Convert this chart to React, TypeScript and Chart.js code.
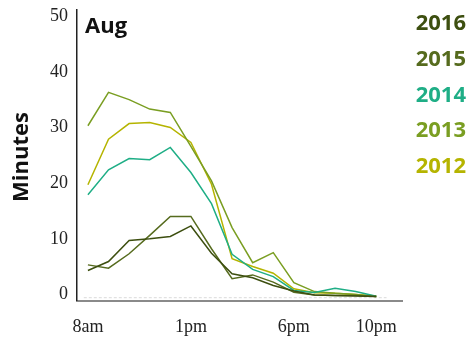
import React, { useEffect, useRef } from "react";
import { Chart, registerables } from "chart.js";

Chart.register(...registerables);

const hours = [8, 9, 10, 11, 12, 13, 14, 15, 16, 17, 18, 19, 20, 21, 22];
const seriesLabels = ["2016", "2015", "2014", "2013", "2012"];
const s2016 = [4.9, 6.5, 10.3, 10.6, 11.0, 12.9, 8.0, 4.3, 3.6, 2.2, 1.2, 0.5, 0.4, 0.3, 0.2];
const s2015 = [5.9, 5.3, 7.9, 11.2, 14.6, 14.6, 8.8, 3.4, 4.1, 2.8, 1.0, 0.5, 0.4, 0.4, 0.2];
const s2014 = [18.5, 23.0, 25.0, 24.8, 27.0, 22.5, 16.9, 7.8, 5.1, 3.8, 1.3, 0.95, 1.7, 1.1, 0.25];
const s2013 = [30.9, 36.9, 35.6, 33.9, 33.3, 27.2, 21.0, 12.6, 6.3, 8.1, 2.7, 1.1, 0.8, 0.6, 0.2];
const s2012 = [20.3, 28.5, 31.3, 31.5, 30.6, 27.9, 20.4, 7.0, 5.6, 4.4, 1.6, 0.9, 0.8, 0.6, 0.3];
const seriesValues = [s2016, s2015, s2014, s2013, s2012];
const seriesColors = ["#3d4f10", "#566b1e", "#1fae86", "#7a9e22", "#b5b400"];
const xTickHours = [8, 13, 18, 22];
const xTickLabels = ["8am", "1pm", "6pm", "10pm"];
const yTicks = [0, 10, 20, 30, 40, 50];
const panelTitle = "Aug";
const yTitle = "Minutes";

const overlayPlugin = {
  id: "overlay",
  beforeDatasetsDraw(chart: any) {
    const { ctx, scales } = chart;
    const y0 = scales.y.getPixelForValue(0);
    ctx.save();
    ctx.strokeStyle = "#dadada";
    ctx.lineWidth = 1;
    ctx.setLineDash([3, 2]);
    ctx.beginPath();
    ctx.moveTo(scales.x.getPixelForValue(7.8), y0);
    ctx.lineTo(scales.x.getPixelForValue(22.5), y0);
    ctx.stroke();
    ctx.restore();
  },
  afterDraw(chart: any) {
    const { ctx } = chart;
    ctx.save();
    ctx.font = 'bold 22px "Open Sans"';
    ctx.fillStyle = "#111";
    ctx.textAlign = "left";
    ctx.textBaseline = "alphabetic";
    ctx.fillText(panelTitle, 85, 33);

    ctx.save();
    ctx.translate(28, 157);
    ctx.rotate(-Math.PI / 2);
    ctx.textAlign = "center";
    ctx.fillText(yTitle, 0, 0);
    ctx.restore();

    ctx.textAlign = "right";
    seriesLabels.forEach((lab, i) => {
      ctx.fillStyle = seriesColors[i];
      ctx.fillText(lab, 466, 30 + i * 35.8);
    });
    ctx.restore();
  },
};

export default function App() {
  const ref = useRef<HTMLCanvasElement | null>(null);
  useEffect(() => {
    if (!ref.current) return;
    const datasets = seriesLabels.map((lab, i) => ({
      label: lab,
      data: hours.map((h, j) => ({ x: h, y: seriesValues[i][j] })),
      borderColor: seriesColors[i],
      backgroundColor: seriesColors[i],
      borderWidth: 1.5,
      pointRadius: 0,
      tension: 0,
      fill: false,
    }));
    const chart = new Chart(ref.current, {
      type: "line",
      data: { datasets },
      plugins: [overlayPlugin],
      options: {
        animation: false,
        responsive: false,
        devicePixelRatio: 1,
        layout: { padding: { left: 0, top: 10, right: 70, bottom: 0 } },
        plugins: { legend: { display: false }, tooltip: { enabled: false } },
        scales: {
          x: {
            type: "linear",
            min: 7.47,
            max: 23.25,
            afterFit: (s: any) => {
              s.height = 38.5;
              s.paddingLeft = 0;
              s.paddingRight = 0;
            },
            afterBuildTicks: (s: any) => {
              s.ticks = xTickHours.map((v) => ({ value: v }));
            },
            grid: { display: false, drawTicks: false },
            border: { display: true, color: "#8a8a8a", width: 2 },
            ticks: {
              padding: 15.5,
              maxRotation: 0,
              autoSkip: false,
              color: "#222",
              font: { family: '"Liberation Serif", serif', size: 18 },
              callback: (v: any) => {
                const idx = xTickHours.indexOf(Number(v));
                return idx >= 0 ? xTickLabels[idx] : "";
              },
            },
          },
          y: {
            type: "linear",
            min: -0.5,
            max: 51.7,
            afterFit: (s: any) => {
              s.width = 77;
              s.paddingTop = 0;
              s.paddingBottom = 0;
            },
            afterBuildTicks: (s: any) => {
              s.ticks = yTicks.map((v) => ({ value: v }));
            },
            grid: { display: false, drawTicks: false },
            border: { display: true, color: "#222", width: 1.5 },
            ticks: {
              padding: 9,
              labelOffset: -3,
              color: "#222",
              font: { family: '"Liberation Serif", serif', size: 18 },
            },
          },
        },
      },
    } as any);
    return () => chart.destroy();
  }, []);
  return (
    <div style={{ position: "absolute", left: 0, top: 0, width: 472, height: 339 }}>
      <canvas ref={ref} width={472} height={339} style={{ display: "block" }} />
    </div>
  );
}
